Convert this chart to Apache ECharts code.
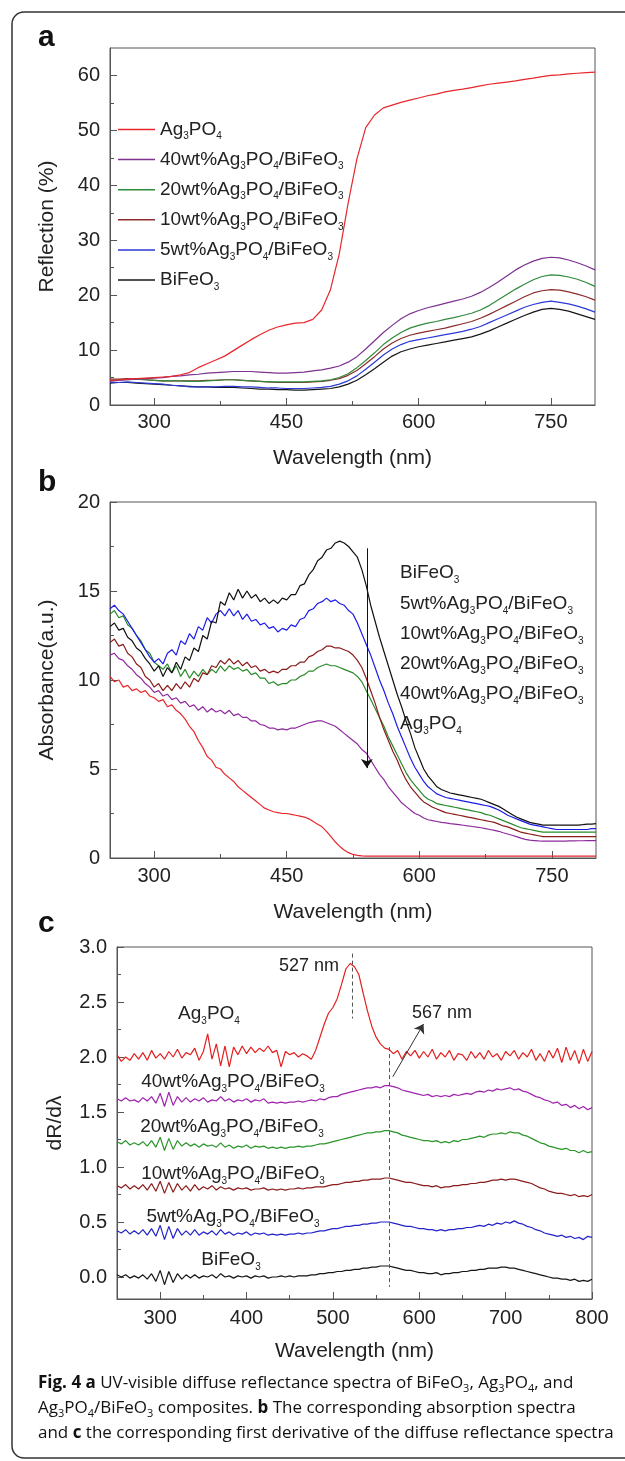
<!DOCTYPE html>
<html><head><meta charset="utf-8">
<script src="https://cdn.jsdelivr.net/npm/echarts@6/dist/echarts.min.js"></script>
<style>html,body{margin:0;padding:0;background:#fff}#c{width:625px;height:1461px}</style>
</head><body><div id="c"></div>
<script>
// ---------- DATA ----------
const wlA = [250,260,270,280,290,300,310,320,330,340,350,360,370,380,390,400,410,420,430,440,450,460,470,480,490,500,510,520,530,540,550,560,570,580,590,600,610,620,630,640,650,660,670,680,690,700,710,720,730,740,750,760,770,780,790,800];
const reflAg3PO4 = [4.5,4.6,4.7,4.8,4.9,5.0,5.1,5.2,5.5,5.9,6.8,7.5,8.2,8.9,9.9,10.9,11.9,12.8,13.6,14.2,14.6,14.9,15.0,15.6,17.3,21.0,27.5,36.7,44.8,50.5,52.8,54.1,54.6,55.1,55.5,55.9,56.3,56.6,57.0,57.3,57.5,57.8,58.1,58.4,58.6,58.8,59.0,59.3,59.5,59.8,60.0,60.1,60.3,60.4,60.5,60.6];
const refl40 = [4.3,4.5,4.6,4.7,4.8,4.9,5.0,5.2,5.3,5.5,5.6,5.8,5.9,6.0,6.1,6.1,6.1,6.0,5.9,5.8,5.8,5.9,6.0,6.2,6.4,6.7,7.1,7.8,8.8,10.2,11.7,13.2,14.5,15.7,16.6,17.2,17.7,18.1,18.5,18.9,19.3,19.8,20.5,21.4,22.4,23.5,24.6,25.5,26.2,26.7,26.9,26.8,26.4,25.9,25.3,24.6];
const refl20 = [4.5,4.6,4.6,4.7,4.6,4.5,4.4,4.4,4.4,4.3,4.3,4.4,4.5,4.6,4.6,4.5,4.4,4.3,4.2,4.2,4.2,4.2,4.2,4.3,4.4,4.6,5.0,5.7,6.8,8.1,9.5,11.0,12.2,13.2,14.0,14.5,14.9,15.2,15.6,15.9,16.3,16.7,17.3,18.1,19.1,20.1,21.1,22.0,22.8,23.4,23.7,23.6,23.3,22.9,22.3,21.6];
const refl10 = [4.7,4.7,4.8,4.7,4.6,4.5,4.4,4.4,4.4,4.4,4.4,4.5,4.5,4.6,4.6,4.5,4.4,4.3,4.2,4.1,4.1,4.1,4.1,4.2,4.3,4.5,4.8,5.4,6.3,7.5,8.8,10.2,11.3,12.1,12.7,13.1,13.4,13.7,14.0,14.4,14.8,15.2,15.8,16.5,17.3,18.1,18.9,19.7,20.4,20.8,21.0,20.9,20.6,20.2,19.7,19.1];
const refl5 = [4.1,4.1,4.2,4.1,4.0,3.9,3.8,3.6,3.5,3.3,3.3,3.3,3.3,3.4,3.4,3.3,3.3,3.2,3.1,3.1,3.0,3.0,3.0,3.1,3.2,3.4,3.8,4.4,5.3,6.5,7.8,9.1,10.2,11.0,11.6,11.9,12.2,12.5,12.8,13.1,13.4,13.8,14.3,15.0,15.7,16.4,17.1,17.8,18.3,18.7,18.9,18.7,18.4,18.0,17.5,16.9];
const reflBiFeO3 = [4.0,4.1,4.1,4.0,3.9,3.8,3.7,3.6,3.5,3.4,3.3,3.3,3.2,3.2,3.2,3.1,3.0,2.9,2.9,2.8,2.8,2.7,2.7,2.8,2.9,3.0,3.3,3.8,4.5,5.5,6.6,7.8,8.9,9.7,10.2,10.6,10.9,11.2,11.5,11.8,12.1,12.4,12.9,13.5,14.2,14.9,15.6,16.3,16.9,17.4,17.6,17.4,17.1,16.6,16.1,15.6];

const wlBC = [250,255,260,265,270,275,280,285,290,295,300,305,310,315,320,325,330,335,340,345,350,355,360,365,370,375,380,385,390,395,400,405,410,415,420,425,430,435,440,445,450,455,460,465,470,475,480,485,490,495,500,505,510,515,520,525,530,535,540,545,550,555,560,565,570,575,580,585,590,595,600,605,610,615,620,625,630,635,640,645,650,655,660,665,670,675,680,685,690,695,700,705,710,715,720,725,730,735,740,745,750,755,760,765,770,775,780,785,790,795,800];

const absBiFeO3 = [13.0,13.2,12.8,12.9,12.4,12.2,11.8,11.6,11.2,10.9, 10.5,10.8,10.2,10.7,10.4,11.0,10.6,11.3,11.1,11.8, 11.6,12.5,12.3,13.3,13.2,14.4,14.2,14.9,14.5,15.1, 14.6,15.0,14.6,14.8,14.4,14.6,14.3,14.5,14.3,14.6, 14.5,14.8,14.8,15.3,15.4,15.9,16.2,16.7,16.9,17.3, 17.4,17.7,17.8,17.7,17.5,17.2,16.9,16.2,15.3,14.2, 13.3,12.4,11.6,10.8,10.0,9.2,8.5,7.7,7.0,6.2, 5.6,5.0,4.6,4.3,4.0,3.85,3.75,3.65,3.6,3.55, 3.5,3.45,3.4,3.35,3.3,3.2,3.1,3.0,2.9,2.75, 2.6,2.45,2.3,2.2,2.1,2.0,1.95,1.9,1.85,1.85, 1.85,1.85,1.85,1.85,1.85,1.85,1.85,1.87,1.9,1.9, 1.93];
const abs5 = [14.0,14.2,13.9,13.7,13.3,12.9,12.5,12.1,11.7,11.3, 11.0,11.2,10.9,11.5,11.7,11.4,12.2,12.0,12.6,12.3, 13.0,12.8,13.5,13.2,13.7,13.9,13.6,14.0,13.6,13.9, 13.4,13.7,13.3,13.4,13.1,13.2,12.9,13.0,12.7,12.9, 12.8,13.1,13.0,13.4,13.5,13.9,14.0,14.3,14.4,14.6, 14.4,14.5,14.3,14.2,13.9,13.7,13.2,12.6,12.0,11.4, 10.7,10.0,9.4,8.7,8.1,7.4,6.8,6.2,5.6,5.1, 4.7,4.3,4.0,3.8,3.6,3.5,3.4,3.35,3.3,3.25, 3.2,3.15,3.1,3.05,3.0,2.95,2.9,2.8,2.7,2.55, 2.4,2.3,2.2,2.1,2.0,1.9,1.85,1.8,1.75,1.7, 1.65,1.6,1.6,1.6,1.6,1.6,1.6,1.6,1.6,1.65, 1.65];
const abs10 = [12.1,12.3,11.9,12.0,11.5,11.3,10.9,10.7,10.2,10.0, 9.6,9.8,9.4,9.7,9.4,9.8,9.5,9.9,9.6,10.1, 9.9,10.4,10.3,10.8,10.7,11.1,10.9,11.2,10.9,11.1, 10.8,11.0,10.7,10.8,10.5,10.6,10.4,10.5,10.4,10.6, 10.6,10.8,10.8,11.0,11.0,11.3,11.4,11.6,11.7,11.9, 11.9,11.8,11.8,11.7,11.6,11.4,11.1,10.7,10.1,9.4, 8.7,7.9,7.2,6.6,6.0,5.5,4.9,4.4,4.0,3.7, 3.4,3.15,3.0,2.85,2.75,2.65,2.55,2.5,2.45,2.4, 2.35,2.3,2.25,2.2,2.15,2.1,2.05,2.0,1.9,1.8, 1.75,1.65,1.55,1.45,1.4,1.35,1.3,1.25,1.2,1.2, 1.2,1.2,1.2,1.2,1.2,1.2,1.2,1.2,1.2,1.2, 1.2];
const abs20 = [13.7,13.9,13.5,13.6,13.1,12.9,12.5,12.2,11.7,11.5, 11.0,10.8,10.6,10.9,10.4,10.8,10.2,10.6,10.1,10.5, 10.2,10.6,10.3,10.6,10.4,10.8,10.5,10.8,10.6,10.7, 10.5,10.6,10.3,10.4,10.1,10.1,9.8,9.9,9.7,9.8, 9.8,10.0,10.0,10.2,10.3,10.5,10.5,10.7,10.8,10.9, 10.8,10.8,10.7,10.6,10.5,10.4,10.2,9.9,9.4,8.9, 8.4,7.9,7.4,6.8,6.3,5.8,5.3,4.8,4.4,4.1, 3.8,3.5,3.3,3.2,3.05,3.0,2.95,2.9,2.85,2.8, 2.75,2.7,2.65,2.6,2.55,2.45,2.4,2.3,2.2,2.1, 2.0,1.9,1.8,1.7,1.65,1.6,1.55,1.5,1.45,1.45, 1.45,1.45,1.45,1.45,1.45,1.45,1.45,1.45,1.45,1.45, 1.45];
const abs40 = [11.4,11.5,11.2,11.1,10.8,10.6,10.3,10.1,9.8,9.6, 9.3,9.4,9.1,9.2,8.9,9.0,8.7,8.8,8.5,8.6, 8.3,8.5,8.2,8.4,8.2,8.3,8.1,8.3,8.0,8.1, 7.9,7.9,7.7,7.7,7.5,7.45,7.3,7.3,7.2,7.25, 7.2,7.3,7.3,7.4,7.5,7.6,7.65,7.7,7.7,7.6, 7.5,7.4,7.2,7.0,6.8,6.6,6.4,6.1,5.9,5.5, 5.1,4.7,4.4,4.0,3.7,3.4,3.1,2.9,2.7,2.5, 2.4,2.25,2.15,2.1,2.05,2.0,1.97,1.93,1.9,1.87, 1.84,1.8,1.77,1.73,1.7,1.65,1.6,1.55,1.5,1.42, 1.35,1.28,1.2,1.12,1.05,1.0,0.98,0.96,0.95,0.95, 0.95,0.95,0.95,0.95,0.96,0.96,0.97,0.97,0.98,0.98, 0.98];
const absAg3PO4 = [10.2,9.9,10.0,9.6,9.7,9.4,9.5,9.3,9.4,9.1, 9.0,8.8,8.9,8.5,8.6,8.3,8.1,7.8,7.4,7.1, 6.6,6.2,5.7,5.5,5.1,5.0,4.7,4.5,4.3,4.0, 3.8,3.6,3.4,3.2,3.0,2.8,2.7,2.6,2.55,2.5, 2.5,2.45,2.4,2.35,2.3,2.2,2.05,1.9,1.75,1.5, 1.2,0.9,0.65,0.45,0.3,0.2,0.15,0.12,0.1,0.1, 0.1,0.1,0.1,0.1,0.1,0.1,0.1,0.1,0.1,0.1, 0.1,0.1,0.1,0.1,0.1,0.1,0.1,0.1,0.1,0.1, 0.1,0.1,0.1,0.1,0.1,0.1,0.1,0.1,0.1,0.1, 0.1,0.1,0.1,0.1,0.1,0.1,0.1,0.1,0.1,0.1, 0.1,0.1,0.1,0.1,0.1,0.1,0.1,0.1,0.1,0.1, 0.1];

const derAg3PO4 = [2.02,1.96,2.00,1.97,2.03,1.98,2.04,1.97,2.06,1.99, 2.03,1.98,2.05,2.00,2.07,1.99,2.04,2.02,2.08,1.97, 2.05,2.21,1.98,2.12,1.92,2.10,1.91,2.09,2.02,2.10, 2.03,2.09,2.04,2.08,2.05,2.10,2.04,2.06,1.91,2.05, 2.02,2.04,2.00,2.03,2.01,1.98,2.06,2.18,2.30,2.40, 2.45,2.53,2.66,2.80,2.85,2.82,2.75,2.58,2.42,2.28, 2.18,2.12,2.08,2.07,2.03,2.06,1.98,2.05,2.01,2.06, 1.99,2.05,2.00,2.07,1.98,2.04,2.00,2.06,1.97,2.03, 2.02,1.97,2.05,1.99,2.04,1.98,2.06,2.00,2.03,1.97, 2.05,2.01,2.06,1.98,2.04,2.00,2.07,1.97,2.03,1.96, 2.06,1.99,2.08,1.95,2.09,1.97,2.06,1.94,2.07,1.96, 2.05];
const der40 = [1.62,1.60,1.63,1.60,1.61,1.59,1.63,1.60,1.64,1.58, 1.67,1.55,1.68,1.56,1.64,1.59,1.63,1.59,1.62,1.60, 1.63,1.59,1.61,1.60,1.64,1.60,1.62,1.59,1.61,1.60, 1.62,1.59,1.61,1.60,1.62,1.58,1.59,1.58,1.59,1.58, 1.59,1.59,1.60,1.59,1.60,1.61,1.60,1.62,1.61,1.63, 1.64,1.64,1.66,1.67,1.68,1.69,1.70,1.71,1.72,1.72, 1.73,1.72,1.74,1.74,1.73,1.72,1.70,1.69,1.68,1.67, 1.66,1.65,1.66,1.64,1.65,1.64,1.65,1.64,1.66,1.65, 1.66,1.67,1.66,1.68,1.69,1.68,1.70,1.69,1.71,1.70, 1.71,1.72,1.70,1.71,1.69,1.68,1.66,1.64,1.63,1.61, 1.60,1.58,1.59,1.56,1.57,1.54,1.56,1.53,1.55,1.52, 1.54];
const der20 = [1.23,1.21,1.24,1.20,1.22,1.20,1.23,1.19,1.24,1.18, 1.27,1.15,1.26,1.16,1.24,1.19,1.22,1.19,1.21,1.18, 1.21,1.19,1.20,1.18,1.22,1.18,1.20,1.17,1.19,1.18, 1.20,1.17,1.19,1.18,1.19,1.17,1.18,1.17,1.18,1.17, 1.18,1.18,1.19,1.18,1.19,1.19,1.20,1.21,1.21,1.22, 1.23,1.24,1.25,1.26,1.27,1.28,1.29,1.30,1.31,1.31, 1.32,1.32,1.33,1.33,1.32,1.31,1.29,1.28,1.27,1.26, 1.25,1.24,1.24,1.23,1.24,1.22,1.23,1.22,1.24,1.23, 1.25,1.25,1.26,1.27,1.28,1.27,1.29,1.30,1.30,1.31, 1.30,1.32,1.31,1.31,1.29,1.28,1.26,1.24,1.22,1.21, 1.19,1.18,1.17,1.16,1.17,1.15,1.15,1.13,1.15,1.13, 1.14];
const der10 = [0.83,0.81,0.84,0.80,0.83,0.80,0.84,0.79,0.85,0.78, 0.87,0.76,0.86,0.77,0.85,0.79,0.83,0.78,0.84,0.79, 0.82,0.80,0.83,0.79,0.82,0.80,0.81,0.79,0.81,0.80, 0.81,0.79,0.80,0.80,0.81,0.79,0.80,0.79,0.80,0.79, 0.80,0.80,0.81,0.80,0.81,0.81,0.82,0.82,0.82,0.83, 0.84,0.84,0.85,0.86,0.86,0.87,0.87,0.88,0.88,0.89, 0.89,0.89,0.90,0.90,0.89,0.88,0.87,0.86,0.86,0.85, 0.84,0.83,0.83,0.82,0.83,0.81,0.82,0.82,0.83,0.83, 0.84,0.84,0.85,0.85,0.86,0.86,0.87,0.88,0.88,0.89, 0.88,0.89,0.89,0.88,0.87,0.86,0.85,0.83,0.81,0.80, 0.78,0.77,0.76,0.76,0.75,0.74,0.75,0.73,0.74,0.73, 0.75];
const der5 = [0.42,0.40,0.43,0.39,0.42,0.39,0.43,0.38,0.44,0.37, 0.47,0.34,0.46,0.35,0.44,0.38,0.42,0.38,0.43,0.38, 0.41,0.39,0.42,0.38,0.43,0.39,0.41,0.38,0.40,0.39, 0.41,0.38,0.40,0.39,0.40,0.38,0.39,0.38,0.39,0.38, 0.39,0.39,0.40,0.39,0.40,0.40,0.41,0.42,0.42,0.43, 0.44,0.44,0.45,0.46,0.46,0.47,0.47,0.48,0.48,0.49, 0.49,0.50,0.50,0.50,0.49,0.48,0.47,0.46,0.46,0.45, 0.44,0.44,0.43,0.43,0.42,0.43,0.42,0.43,0.43,0.44, 0.44,0.45,0.45,0.46,0.47,0.46,0.48,0.47,0.49,0.48, 0.50,0.49,0.51,0.49,0.48,0.46,0.45,0.43,0.42,0.40, 0.39,0.38,0.37,0.38,0.36,0.37,0.35,0.36,0.34,0.37, 0.36];
const derBiFeO3 = [0.02,0.00,0.02,-0.01,0.01,-0.01,0.02,-0.02,0.03,-0.04, 0.06,-0.07,0.05,-0.05,0.03,-0.02,0.02,-0.01,0.02,-0.01, 0.01,0.00,0.02,-0.01,0.03,0.00,0.01,-0.01,0.01,0.00, 0.01,-0.01,0.01,0.00,0.01,-0.01,0.00,0.00,0.01,0.00, 0.01,0.00,0.01,0.01,0.01,0.02,0.02,0.03,0.03,0.04, 0.04,0.05,0.05,0.06,0.06,0.07,0.07,0.08,0.08,0.09, 0.09,0.10,0.10,0.10,0.09,0.08,0.07,0.06,0.06,0.05, 0.04,0.04,0.03,0.03,0.04,0.02,0.03,0.03,0.04,0.04, 0.05,0.05,0.06,0.06,0.07,0.07,0.08,0.08,0.08,0.09, 0.09,0.08,0.08,0.07,0.06,0.05,0.04,0.03,0.02,0.01, 0.00,-0.01,-0.01,-0.02,-0.02,-0.03,-0.02,-0.04,-0.03,-0.04, -0.02];

// tick labels
const xTicksAB = [300,450,600,750];
const xMinorAB = [375,525,675];
const yTicksA = [0,10,20,30,40,50,60];
const yMinorA = [5,15,25,35,45,55];
const yTicksB = [0,5,10,15,20];
const yMinorB = [2.5,7.5,12.5,17.5];
const xTicksC = [300,400,500,600,700,800];
const xMinorC = [350,450,550,650,750];
const yTicksC = [0,0.5,1,1.5,2,2.5,3];
const yMinorC = [0.25,0.75,1.25,1.75,2.25,2.75];

const names = ['Ag3PO4','40wt%Ag3PO4/BiFeO3','20wt%Ag3PO4/BiFeO3','10wt%Ag3PO4/BiFeO3','5wt%Ag3PO4/BiFeO3','BiFeO3'];
const labelsB = ['BiFeO3','5wt%Ag3PO4/BiFeO3','10wt%Ag3PO4/BiFeO3','20wt%Ag3PO4/BiFeO3','40wt%Ag3PO4/BiFeO3','Ag3PO4'];
// annotation values (data units)
const arrowB = [[540.7,17.4],[540.7,5.05]];
const dash527 = [[521.9,2.94],[521.9,2.35]];
const dash567 = [[565.5,2.09],[565.5,-0.09]];
const arrow567 = [[569.3,1.82],[604.9,2.30]];
const peakLabels = ['527 nm','567 nm'];

// ---------- STYLE ----------
const FONT = '"Liberation Sans", Arial, sans-serif';
const CAPFONT = '"Open Sans", "Noto Sans", sans-serif';
const INK = '#222';
const AX = '#555';
const colA = {'Ag3PO4':'#e8262c','40wt%Ag3PO4/BiFeO3':'#7d3290','20wt%Ag3PO4/BiFeO3':'#2f8a3a','10wt%Ag3PO4/BiFeO3':'#8c2c2c','5wt%Ag3PO4/BiFeO3':'#2b3ad8','BiFeO3':'#161616'};
const colB = {'Ag3PO4':'#e8262c','40wt%Ag3PO4/BiFeO3':'#8e2a9e','20wt%Ag3PO4/BiFeO3':'#2a8a2a','10wt%Ag3PO4/BiFeO3':'#8b1c1c','5wt%Ag3PO4/BiFeO3':'#1c1ce8','BiFeO3':'#111'};
const colC = {'Ag3PO4':'#e2201f','40wt%Ag3PO4/BiFeO3':'#a024b0','20wt%Ag3PO4/BiFeO3':'#2a962a','10wt%Ag3PO4/BiFeO3':'#8b1c1c','5wt%Ag3PO4/BiFeO3':'#2424c8','BiFeO3':'#161616'};

function subRich(t, n, s){ return '{'+n+'|' + t.replace(/([A-Za-z])(\d)/g, '$1}{'+s+'|$2}{'+n+'|') + '}'; }
const richLbl = {
  n:{fontSize:19, fontFamily:FONT, color:INK, lineHeight:24},
  s:{fontSize:10, fontFamily:FONT, color:INK, lineHeight:10, verticalAlign:'bottom'}
};
const richG = {
  n:{fontSize:19, fontFamily:FONT, fill:INK, lineHeight:24},
  s:{fontSize:10, fontFamily:FONT, fill:INK, lineHeight:10, verticalAlign:'bottom'}
};

function xAxes(g, ticks, minor, gap, margin){
  return [{type:'value', gridIndex:g, position:'bottom', min:250, max:800,
    name:'Wavelength (nm)', nameLocation:'middle', nameGap:gap,
    nameTextStyle:{fontSize:21, color:INK, fontFamily:FONT},
    axisLine:{show:true, onZero:false, lineStyle:{color:AX, width:1}},
    axisTick:{show:true, inside:true, length:7, customValues:ticks, lineStyle:{color:AX, width:1}},
    axisLabel:{show:true, customValues:ticks, margin:margin, fontSize:20, color:INK, fontFamily:FONT},
    splitLine:{show:false}},
   {type:'value', gridIndex:g, position:'bottom', min:250, max:800,
    axisLine:{show:false, onZero:false},
    axisTick:{show:true, inside:true, length:4, customValues:minor, lineStyle:{color:AX, width:1}},
    axisLabel:{show:false}, splitLine:{show:false}}];
}
function yAxes(g, min, max, ticks, minor, name, gap, fmt){
  return [{type:'value', gridIndex:g, position:'left', min:min, max:max,
    name:name, nameLocation:'middle', nameGap:gap, nameRotate:90,
    nameTextStyle:{fontSize:21, color:INK, fontFamily:FONT},
    axisLine:{show:true, onZero:false, lineStyle:{color:AX, width:1}},
    axisTick:{show:true, inside:true, length:7, customValues:ticks, lineStyle:{color:AX, width:1}},
    axisLabel:{show:true, customValues:ticks, margin:10, fontSize:20, color:INK, fontFamily:FONT, formatter:fmt},
    splitLine:{show:false}},
   {type:'value', gridIndex:g, position:'left', min:min, max:max,
    axisLine:{show:false, onZero:false},
    axisTick:{show:true, inside:true, length:4, customValues:minor, lineStyle:{color:AX, width:1}},
    axisLabel:{show:false}, splitLine:{show:false}}];
}
function line(name, xs, ys, color, xi, yi, extra){
  return Object.assign({type:'line', name:name, xAxisIndex:xi, yAxisIndex:yi,
    data: xs.map((x,i)=>[x, ys[i]]), symbol:'none', showSymbol:false, silent:true,
    lineStyle:{width:1.2, color:color}, itemStyle:{color:color}, animation:false}, extra||{});
}

const seriesA = [
  line(names[5], wlA, reflBiFeO3, colA[names[5]], 0, 0),
  line(names[4], wlA, refl5, colA[names[4]], 0, 0),
  line(names[3], wlA, refl10, colA[names[3]], 0, 0),
  line(names[2], wlA, refl20, colA[names[2]], 0, 0),
  line(names[1], wlA, refl40, colA[names[1]], 0, 0),
  line(names[0], wlA, reflAg3PO4, colA[names[0]], 0, 0)
];
const seriesB = [
  line('b '+names[0], wlBC, absAg3PO4, colB[names[0]], 2, 2),
  line('b '+names[1], wlBC, abs40, colB[names[1]], 2, 2),
  line('b '+names[2], wlBC, abs20, colB[names[2]], 2, 2),
  line('b '+names[3], wlBC, abs10, colB[names[3]], 2, 2),
  line('b '+names[4], wlBC, abs5, colB[names[4]], 2, 2),
  line('b '+names[5], wlBC, absBiFeO3, colB[names[5]], 2, 2, {
    markLine:{silent:true, animation:false, symbol:['none','arrow'], symbolSize:9,
      label:{show:false}, lineStyle:{color:'#111', width:1, type:'solid'},
      data:[[{coord:arrowB[0]},{coord:arrowB[1]}]]}})
];
const seriesC = [
  line('c '+names[5], wlBC, derBiFeO3, colC[names[5]], 4, 4),
  line('c '+names[4], wlBC, der5, colC[names[4]], 4, 4),
  line('c '+names[3], wlBC, der10, colC[names[3]], 4, 4),
  line('c '+names[2], wlBC, der20, colC[names[2]], 4, 4),
  line('c '+names[1], wlBC, der40, colC[names[1]], 4, 4, {
    markLine:{silent:true, animation:false, symbol:['none','arrow'], symbolSize:9,
      label:{show:false}, lineStyle:{color:'#333', width:1, type:'solid'},
      data:[[{coord:arrow567[0]},{coord:arrow567[1]}]]}}),
  line('c '+names[0], wlBC, derAg3PO4, colC[names[0]], 4, 4, {
    markLine:{silent:true, animation:false, symbol:['none','none'],
      label:{show:false}, lineStyle:{color:'#555', width:1, type:[4,3]},
      data:[[{coord:dash527[0]},{coord:dash527[1]}],[{coord:dash567[0]},{coord:dash567[1]}]]}})
];

function txt(x, y, text, extra){
  return {type:'text', x:x, y:y, silent:true, style:Object.assign({text:text, fill:INK, font:'19px '+FONT, rich:richG, align:'left', verticalAlign:'middle'}, extra||{})};
}
const graphics = [
  {type:'rect', silent:true, shape:{x:12, y:12, width:640, height:1446, r:12}, style:{fill:'none', stroke:'#333', lineWidth:1.5}},
  txt(38, 53, 'a', {font:'bold 30px '+FONT, rich:null, verticalAlign:'bottom', fill:'#111'}),
  txt(38, 498, 'b', {font:'bold 30px '+FONT, rich:null, verticalAlign:'bottom', fill:'#111'}),
  txt(38, 939, 'c', {font:'bold 30px '+FONT, rich:null, verticalAlign:'bottom', fill:'#111'})
];
const rowsB = [573, 604, 634, 664, 694, 724];
labelsB.forEach((t,i)=>graphics.push(txt(400, rowsB[i], subRich(t,'n','s'))));
const posC = [[209,1014],[233,1082],[232,1127],[233,1174],[233,1217],[231,1260]];
names.forEach((t,i)=>graphics.push(txt(posC[i][0], posC[i][1], subRich(t,'n','s'), {align:'center'})));
graphics.push(txt(309, 966, peakLabels[0], {align:'center', rich:null, font:'18px '+FONT}));
graphics.push(txt(442, 1013, peakLabels[1], {align:'center', rich:null, font:'18px '+FONT}));
const capRich = {
  b:{fontSize:17, fontFamily:CAPFONT, fontWeight:'bold', fill:'#111', lineHeight:22},
  s:{fontSize:11, fontFamily:CAPFONT, fill:'#111', lineHeight:11, verticalAlign:'bottom'}
};
const capLines = [
  '{b|Fig. 4 a} UV-visible diffuse reflectance spectra of BiFeO{s|3}, Ag{s|3}PO{s|4}, and',
  'Ag{s|3}PO{s|4}/BiFeO{s|3} composites. {b|b} The corresponding absorption spectra',
  'and {b|c} the corresponding first derivative of the diffuse reflectance spectra'
];
[1383,1408,1433].forEach((y,i)=>graphics.push(txt(38, y, capLines[i], {font:'17px '+CAPFONT, fill:'#111', rich:capRich, lineHeight:22})));

const chart = echarts.init(document.getElementById('c'), null, {renderer:'canvas'});
chart.setOption({
  backgroundColor:'#fff',
  animation:false,
  grid:[
    {left:110, top:48, width:485, height:357, show:true, borderColor:AX, borderWidth:1, containLabel:false, outerBoundsMode:'none'},
    {left:110, top:502, width:486, height:356, show:true, borderColor:AX, borderWidth:1, containLabel:false, outerBoundsMode:'none'},
    {left:117, top:947, width:475, height:352, show:true, borderColor:AX, borderWidth:1, containLabel:false, outerBoundsMode:'none'}
  ],
  xAxis: [].concat(xAxes(0, xTicksAB, xMinorAB, 43, 7), xAxes(1, xTicksAB, xMinorAB, 44, 8), xAxes(2, xTicksC, xMinorC, 42, 9)),
  yAxis: [].concat(
    yAxes(0, 0, 65, yTicksA, yMinorA, 'Reflection (%)', 52, v=>String(v)),
    yAxes(1, 0, 20, yTicksB, yMinorB, 'Absorbance(a.u.)', 52, v=>String(v)),
    yAxes(2, -0.2, 3.0, yTicksC, yMinorC, 'dR/dλ', 51, v=>v.toFixed(1))),
  legend:{
    data:names, orient:'vertical', left:118, top:120, padding:0,
    icon:'rect', itemWidth:37, itemHeight:1.5, itemGap:8.6, selectedMode:false,
    textStyle:{fontSize:19, color:INK, fontFamily:FONT, rich:richLbl},
    formatter: n=>subRich(n,'n','s')
  },
  series: [].concat(seriesA, seriesB, seriesC),
  graphic: graphics
});
</script>
</body></html>
